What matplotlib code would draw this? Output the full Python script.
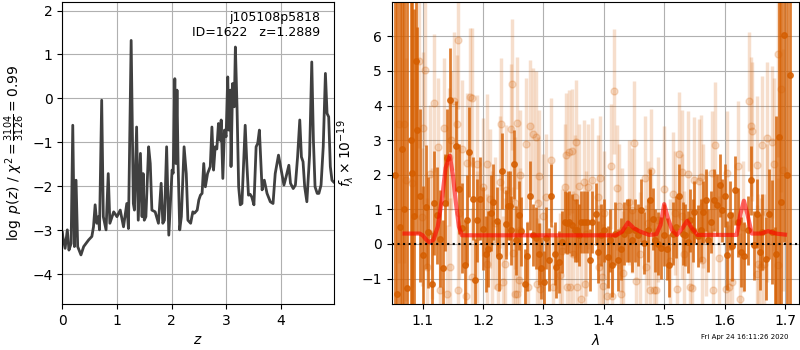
import matplotlib
matplotlib.use('Agg')
import matplotlib.pyplot as plt

# p(z) curve
z_grid = [0.0, 0.007, 0.05, 0.09, 0.12, 0.16, 0.19, 0.22, 0.25, 0.28, 0.34, 0.39, 0.48, 0.54,
          0.57, 0.60, 0.63, 0.66, 0.68, 0.72, 0.75, 0.80, 0.84, 0.87, 0.94, 1.00, 1.06, 1.12,
          1.18, 1.21, 1.26, 1.30, 1.32, 1.36, 1.39, 1.43, 1.46, 1.48, 1.50, 1.53, 1.58, 1.61,
          1.64, 1.70, 1.76, 1.81, 1.84, 1.87, 1.91, 1.95, 2.01, 2.03, 2.06, 2.08, 2.10, 2.12,
          2.15, 2.18, 2.23, 2.27, 2.30, 2.35, 2.39, 2.42, 2.47, 2.50, 2.53, 2.56, 2.59, 2.62,
          2.66, 2.71, 2.74, 2.77, 2.80, 2.83, 2.86, 2.89, 2.91, 2.94, 2.97, 3.00, 3.03, 3.05,
          3.08, 3.09, 3.12, 3.15, 3.17, 3.20, 3.23, 3.26, 3.29, 3.32, 3.35, 3.38, 3.41, 3.44,
          3.47, 3.51, 3.55, 3.58, 3.61, 3.63, 3.66, 3.70, 3.75, 3.81, 3.86, 3.90, 3.96, 4.01,
          4.06, 4.10, 4.15, 4.18, 4.23, 4.27, 4.31, 4.35, 4.38, 4.41, 4.44, 4.48, 4.51, 4.53,
          4.57, 4.60, 4.63, 4.67, 4.70, 4.74, 4.78, 4.82, 4.85, 4.88, 4.91, 4.94, 4.97]
log_pz = [-3.05, -3.14, -3.41, -2.99, -3.45, -3.30, -0.61, -3.37, -1.86, -3.37, -3.56, -3.37,
          -3.22, -3.14, -2.92, -2.42, -2.84, -2.69, -2.99, -0.04, -2.69, -2.99, -1.71, -2.84,
          -2.58, -2.69, -2.54, -2.92, -2.39, -2.96, 1.32, -2.39, -2.54, -0.65, -2.77, -1.25,
          -2.69, -1.71, -2.77, -2.69, -1.10, -1.48, -2.54, -2.58, -2.84, -1.93, -2.84, -2.77,
          -1.10, -3.11, -1.63, -1.70, 0.45, -1.48, 0.19, -1.48, -2.99, -2.69, -1.10, -1.71,
          -2.77, -2.84, -2.58, -2.61, -2.54, -2.31, -2.20, -2.16, -1.48, -2.01, -1.71, -1.55,
          -0.65, -1.63, -1.10, -1.15, -0.57, -0.95, -0.49, -1.82, -0.72, -0.87, 0.49, -0.72,
          0.19, -1.55, 0.34, -0.19, 1.17, -0.19, -2.01, -2.42, -2.39, -1.48, -0.61, -1.48,
          -2.20, -2.18, -2.24, -2.42, -1.10, -1.02, -0.72, -1.25, -2.08, -1.86, -2.16, -2.35,
          -2.39, -1.71, -1.29, -1.63, -1.97, -1.78, -1.52, -1.93, -2.05, -1.97, -1.33, -0.49,
          -1.33, -1.44, -2.01, -2.35, -1.71, -1.29, 0.83, -0.95, -2.01, -2.16, -2.16, -1.97,
          -1.10, 0.57, -0.34, -0.42, -1.55, -1.86, -1.90]

# first spectrum (dark points)
dark_wave = [1.0545, 1.0580, 1.0620, 1.0652, 1.0690, 1.0735, 1.0800, 1.0829, 1.0862, 1.0884,
             1.0912, 1.0956, 1.1011, 1.1050, 1.1094, 1.1149, 1.1193, 1.1232, 1.1287, 1.1330,
             1.1370, 1.1409, 1.1450, 1.1552, 1.1607, 1.1655, 1.1700, 1.1740, 1.1765, 1.1828,
             1.1867, 1.1905, 1.1950, 1.1994, 1.2050, 1.2088, 1.2130, 1.2170, 1.2231, 1.2264,
             1.2320, 1.2375, 1.2413, 1.2441, 1.2469, 1.2507, 1.2551, 1.2595, 1.2634, 1.2689,
             1.2734, 1.2783, 1.2827, 1.2872, 1.2921, 1.2966, 1.3004, 1.3048, 1.3093, 1.3131,
             1.3186, 1.3214, 1.3258, 1.3300, 1.3352, 1.3391, 1.3424, 1.3479, 1.3518, 1.3556,
             1.3589, 1.3628, 1.3667, 1.3722, 1.3777, 1.3810, 1.3865, 1.3899, 1.3954, 1.4009,
             1.4064, 1.4103, 1.4136, 1.4191, 1.4230, 1.4285, 1.4340, 1.4379, 1.4423, 1.4467,
             1.4517, 1.4561, 1.4616, 1.4671, 1.4727, 1.4765, 1.4809, 1.4854, 1.4892, 1.4948,
             1.4992, 1.5041, 1.5086, 1.5141, 1.5196, 1.5251, 1.5307, 1.5351, 1.5389, 1.5428,
             1.5472, 1.5500, 1.5555, 1.5604, 1.5642, 1.5686, 1.5731, 1.5769, 1.5825, 1.5880,
             1.5918, 1.5962, 1.6006, 1.6045, 1.6084, 1.6128, 1.6172, 1.6227, 1.6266, 1.6321,
             1.6393, 1.6443, 1.6487, 1.6542, 1.6581, 1.6625, 1.6680, 1.6735, 1.6791, 1.6835,
             1.6857, 1.6901, 1.6940, 1.6989, 1.7030, 1.7083]
dark_flux = [2.0, -1.44, 0.5, 2.73, 1.0, -1.26, 3.0, 2.05, 0.8, 5.28,
             3.28, 1.40, -0.33, 1.07, 0.34, -1.15, 1.19, 0.83, 0.15, -0.70,
             1.19, 2.49, 4.15, 2.82, 1.60, 0.45, -0.60, 0.68, 2.66, 1.31,
             -1.05, 0.68, 1.30, 0.44, -0.28, -0.14, 0.90, 1.21, 0.65, -0.36,
             2.10, 0.57, 1.10, 1.10, 0.39, 2.30, 0.10, 0.83, 0.37, -1.15,
             -0.36, 1.40, 0.25, 0.18, -0.30, -0.70, -1.10, 0.18, -0.45, 1.40,
             -0.28, -0.67, -0.52, 0.05, 0.63, 0.60, 0.63, 0.54, 0.39, 0.39,
             0.25, 0.63, 0.63, 0.63, -0.46, 0.63, 0.87, -0.23, 0.25, 0.39,
             -0.38, 0.10, -0.62, 0.30, -0.46, -0.14, 0.30, 0.39, 0.39, 0.10,
             0.39, 0.25, 0.97, 0.03, 0.39, 1.28, 0.73, 0.10, 0.01, -0.11,
             0.25, -0.14, -0.62, 0.30, 0.49, 1.40, 0.30, 0.25, 0.06, 0.68,
             0.39, 0.92, 0.22, 0.39, 0.92, 1.26, 0.10, 0.63, 1.26, 1.12,
             1.69, 0.97, 1.40, -0.33, 0.83, -0.07, 1.55, 0.63, -0.23, -0.36,
             0.39, 1.84, -0.04, 0.87, -0.23, 0.34, -0.43, 0.87, 0.34, -2.50,
             -0.30, 3.09, 1.21, 6.05, 2.0, 4.87]
dark_err = [10.0, 9.0, 10.0, 9.0, 9.0, 9.0, 8.0, 5.0, 6.0, 4.5,
            3.0, 2.5, 2.0, 1.8, 1.6, 1.5, 1.5, 1.4, 1.4, 1.4,
            1.4, 1.4, 1.5, 1.3, 1.3, 1.3, 1.3, 1.3, 1.3, 1.2,
            1.2, 1.2, 1.2, 1.2, 1.1, 1.1, 1.1, 1.1, 1.0, 1.0,
            1.1, 1.0, 1.0, 1.0, 1.0, 1.0, 1.0, 1.0, 1.0, 1.0,
            1.0, 1.0, 0.9, 0.9, 0.9, 0.9, 0.9, 0.9, 0.9, 0.9,
            0.9, 0.9, 0.9, 0.9, 0.9, 0.9, 0.9, 0.9, 0.9, 0.9,
            0.9, 0.9, 0.9, 0.9, 0.9, 0.9, 0.9, 0.9, 0.9, 0.9,
            0.9, 0.9, 0.9, 0.9, 0.9, 0.9, 0.9, 0.9, 0.9, 0.9,
            0.9, 0.9, 0.9, 0.9, 0.9, 0.9, 0.9, 0.9, 0.9, 0.9,
            0.9, 0.9, 0.9, 0.9, 0.9, 0.9, 0.9, 0.9, 0.9, 0.9,
            0.9, 0.9, 0.9, 0.9, 0.9, 0.9, 0.9, 0.9, 0.9, 0.9,
            0.9, 0.9, 0.9, 1.0, 1.0, 1.0, 1.0, 1.0, 1.0, 1.0,
            1.0, 1.0, 1.0, 1.0, 1.1, 1.1, 1.2, 1.3, 1.5, 3.0,
            4.0, 5.0, 10.0, 6.0, 10.0, 10.0]

# second spectrum (faint points)
light_wave = [1.0614, 1.0691, 1.0724, 1.0818, 1.0945, 1.1011, 1.1039, 1.1067, 1.0990, 1.1122,
              1.1193, 1.1248, 1.1288, 1.1359, 1.1398, 1.1442, 1.1453, 1.1470, 1.1525, 1.1563,
              1.1580, 1.1591, 1.1646, 1.1718, 1.1740, 1.1784, 1.1812, 1.1823, 1.1906, 1.1994,
              1.2061, 1.2071, 1.2115, 1.2143, 1.2248, 1.2275, 1.2303, 1.2337, 1.2358, 1.2386,
              1.2485, 1.2455, 1.2496, 1.2524, 1.2530, 1.2560, 1.2568, 1.2596, 1.2607, 1.2717,
              1.2745, 1.2772, 1.2827, 1.2872, 1.2889, 1.2910, 1.2927, 1.2940, 1.3048, 1.3120,
              1.3159, 1.3275, 1.3352, 1.3368, 1.3397, 1.3440, 1.3424, 1.3479, 1.3490, 1.3518,
              1.3545, 1.3560, 1.3589, 1.3628, 1.3667, 1.3683, 1.3738, 1.3810, 1.3899, 1.3920,
              1.3943, 1.3965, 1.3981, 1.4048, 1.4119, 1.4140, 1.4175, 1.4213, 1.4257, 1.4280,
              1.4324, 1.4467, 1.4506, 1.4530, 1.4688, 1.4699, 1.4766, 1.4782, 1.4830, 1.4870,
              1.5141, 1.5207, 1.5251, 1.5295, 1.5334, 1.5389, 1.5428, 1.5460, 1.5500, 1.5571,
              1.5604, 1.5620, 1.5797, 1.5815, 1.5841, 1.6018, 1.6045, 1.6080, 1.6128, 1.6227,
              1.6250, 1.6404, 1.6443, 1.6459, 1.6532, 1.6542, 1.6560, 1.6597, 1.6625, 1.6660,
              1.6708, 1.6779, 1.6818, 1.6890, 1.6929, 1.6967,
              1.1160, 1.1600, 1.1900, 1.2200, 1.2620, 1.3000, 1.3300, 1.3700, 1.4000, 1.4300,
              1.4600, 1.4900, 1.5100, 1.5300, 1.5700, 1.5900, 1.6300, 1.6700, 1.6880, 1.4420,
              1.4740, 1.5000, 1.5180, 1.5650]
light_flux = [3.46, 3.46, 1.86, 1.76, 5.28, 3.36, 5.02, -0.67, 0.78, 2.03,
              4.08, 2.80, -1.34, 3.36, -1.44, 2.51, -0.67, 2.99, 4.13, 3.46,
              5.90, -1.34, 2.75, -1.49, 2.35, 4.25, -0.96, 4.23, 2.30, 1.65,
              -0.57, 2.32, 1.31, 0.10, -1.25, 1.79, 3.46, -1.10, -0.57, 1.55,
              4.61, 3.31, -0.26, 1.18, -1.44, -1.46, 3.50, -1.05, 1.98, 2.90,
              -1.23, 3.42, 3.19, 3.09, -1.15, 1.18, 1.96, -1.30, 1.37, 2.43,
              -1.25, -0.91, 1.66, 2.56, -1.23, -1.23, 2.65, 2.69, -0.28, 1.36,
              2.95, -1.25, 1.68, -1.60, 1.79, -1.15, 1.66, 1.84, 1.36, -0.67,
              1.91, -0.96, -1.21, -1.49, 2.24, -1.50, 4.41, 1.63, 1.09, -1.46,
              -0.84, 0.97, 2.92, -1.07, 1.91, -0.67, -1.32, 2.10, -1.34, -1.34,
              1.43, -1.30, 2.59, 2.08, -0.28, 2.03, -1.25, -1.26, 1.86, 1.82,
              1.93, -0.47, 2.05, -1.34, 2.87, -1.29, 2.05, -1.25, -1.10, 2.24,
              -1.58, 4.12, 3.40, 3.25, -0.86, 2.27, -0.57, -0.67, 2.85, -0.57,
              3.07, 2.95, 2.30, 5.50, 4.49, 2.13,
              0.30, 0.90, 0.20, 0.60, 0.40, 0.80, -0.20, 0.30, 0.90, 0.40,
              -0.30, 0.70, -0.50, 0.80, 0.30, -0.40, 0.50, 0.90, -0.60, 1.20,
              0.60, 1.60, 0.90, 1.10]
light_err = [4.0, 4.0, 3.5, 3.0, 2.5, 2.2, 2.2, 2.0, 2.0, 2.0,
             2.0, 2.0, 2.0, 2.0, 2.0, 2.0, 2.0, 2.0, 2.0, 2.0,
             2.0, 2.0, 2.0, 2.0, 2.0, 2.0, 2.0, 2.0, 2.0, 2.0,
             2.0, 2.0, 2.0, 2.0, 1.9, 1.9, 1.9, 1.9, 1.9, 1.9,
             1.9, 1.9, 1.9, 1.9, 1.9, 1.9, 1.9, 1.9, 1.9, 1.9,
             1.9, 1.9, 1.9, 1.9, 1.9, 1.9, 1.9, 1.9, 1.8, 1.8,
             1.8, 1.8, 1.8, 1.8, 1.8, 1.8, 1.8, 1.8, 1.8, 1.8,
             1.8, 1.8, 1.8, 1.8, 1.8, 1.8, 1.8, 1.8, 1.8, 1.8,
             1.8, 1.8, 1.8, 1.8, 1.8, 1.8, 1.8, 1.8, 1.8, 1.8,
             1.8, 1.8, 1.8, 1.8, 1.8, 1.8, 1.8, 1.8, 1.8, 1.8,
             1.8, 1.8, 1.8, 1.8, 1.8, 1.8, 1.8, 1.8, 1.8, 1.8,
             1.8, 1.8, 1.8, 1.8, 1.8, 1.8, 1.8, 1.8, 1.8, 1.9,
             1.9, 2.0, 2.0, 2.0, 2.0, 2.0, 2.0, 2.0, 2.0, 2.0,
             2.2, 2.2, 2.5, 3.0, 3.0, 3.5,
             1.9, 1.9, 1.9, 1.9, 1.8, 1.8, 1.8, 1.8, 1.8, 1.8,
             1.8, 1.8, 1.8, 1.8, 1.8, 1.8, 1.9, 2.0, 2.5, 1.8,
             1.8, 1.8, 1.8, 1.8]

# best-fit model
model_wave = [1.070, 1.095, 1.100, 1.106, 1.111, 1.118, 1.125, 1.132, 1.138, 1.145,
              1.150, 1.155, 1.160, 1.165, 1.300, 1.420, 1.430, 1.440, 1.450, 1.460,
              1.475, 1.487, 1.494, 1.500, 1.506, 1.513, 1.521, 1.530, 1.538, 1.546,
              1.555, 1.620, 1.626, 1.632, 1.638, 1.645, 1.660, 1.672, 1.685, 1.700]
model_flux = [0.30, 0.30, 0.25, 0.12, 0.05, 0.12, 0.50, 1.30, 2.20, 2.55,
              2.00, 1.20, 0.50, 0.25, 0.25, 0.25, 0.35, 0.62, 0.45, 0.36,
              0.26, 0.28, 0.55, 1.15, 0.75, 0.40, 0.26, 0.45, 0.67, 0.45,
              0.26, 0.26, 0.85, 1.25, 0.85, 0.30, 0.30, 0.37, 0.30, 0.27]

g141 = (0.835, 0.369, 0.0)

fig = plt.figure(figsize=(8, 3.5), dpi=100)
ax1 = fig.add_axes([0.078, 0.131, 0.339, 0.864])
ax2 = fig.add_axes([0.4896, 0.131, 0.5095, 0.864])

# p(z)
ax1.plot(z_grid, log_pz, color='0.25', lw=2)
ax1.set_xlim(0, 4.97)
ax1.set_ylim(-4.68, 2.2)
ax1.set_xticks([0, 1, 2, 3, 4])
ax1.set_yticks([-4, -3, -2, -1, 0, 1, 2])
ax1.grid(True)
ax1.set_xlabel('$z$')
ax1.set_ylabel(r'$\log\ p(z)$ / $\chi^2=\frac{3104}{3126}=0.99$')
ax1.text(0.95, 0.97, 'j105108p5818\nID=1622   z=1.2889', transform=ax1.transAxes,
         ha='right', va='top', fontsize=9)

# spectra
ax2.errorbar(light_wave, light_flux, yerr=light_err, fmt='o', color=g141, alpha=0.2,
             markersize=5, elinewidth=2.5, capsize=0, zorder=1)
ax2.errorbar(dark_wave, dark_flux, yerr=dark_err, fmt='o', color=g141, alpha=0.8,
             markersize=4, elinewidth=2, capsize=0, zorder=2)
ax2.plot(model_wave, model_flux, color='r', lw=3, alpha=0.6, zorder=4)
ax2.axhline(0, color='k', linestyle=':', lw=1.5, zorder=5)
ax2.set_xlim(1.0487, 1.7237)
ax2.set_ylim(-1.74, 7.0)
ax2.set_xticks([1.1, 1.2, 1.3, 1.4, 1.5, 1.6, 1.7])
ax2.set_yticks([-1, 0, 1, 2, 3, 4, 5, 6])
ax2.grid(True)
ax2.set_axisbelow(True)
ax2.set_xlabel(r'$\lambda$')
ax2.set_ylabel(r'$f_\lambda\times10^{-19}$')

fig.text(0.876, 0.03, 'Fri Apr 24 16:11:26 2020', ha='left', va='bottom', fontsize=5)

fig.savefig('out.png', dpi=100)
